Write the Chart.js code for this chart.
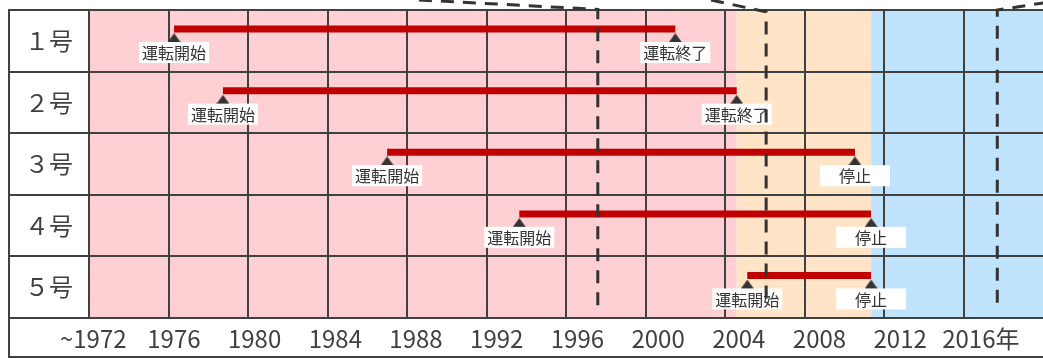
<!DOCTYPE html>
<html lang="ja">
<head>
<meta charset="utf-8">
<script src="https://cdn.jsdelivr.net/npm/chart.js@4.4.1/dist/chart.umd.min.js"></script>
<style>
  html, body { margin: 0; padding: 0; background: #fff; }
  #wrap { width: 1043px; height: 358px; }
</style>
</head>
<body>
<div id="wrap"><canvas id="plantChart" width="1043" height="358"></canvas></div>
<script>
// rows and operating periods (years)
const rowLabels = ["１号", "２号", "３号", "４号", "５号"];
const startYears = [1976.28, 1978.74, 1987.0, 1993.65, 2005.12];
const endYears = [2001.5, 2004.59, 2010.54, 2011.35, 2011.35];
const startTexts = ["運転開始", "運転開始", "運転開始", "運転開始", "運転開始"];
const endTexts = ["運転終了", "運転終了", "停止", "停止", "停止"];

// axis labels
const tickYears = [1972, 1976, 1980, 1984, 1988, 1992, 1996, 2000, 2004, 2008, 2012, 2016];
const tickLabels = ["~1972", "1976", "1980", "1984", "1988", "1992", "1996", "2000", "2004", "2008", "2012", "2016年"];

// background periods
const bandStarts = [1972, 2004.59, 2011.35];
const bandEnds = [2004.59, 2011.35, 2020];
const bandColors = ["#ffd0d3", "#ffe4c8", "#c0e3fd"];

// dashed guide lines (year, row units; negative = above the table)
const guideLeft = [{ x: 1988.6, y: -0.163 }, { x: 1997.6, y: -0.01 }, { x: 1997.6, y: 4.82 }];
const guideMiddle = [{ x: 2003.3, y: -0.163 }, { x: 2006.07, y: 0.03 }, { x: 2006.07, y: 4.82 }];
const guideRight = [{ x: 2020.2, y: -0.125 }, { x: 2017.7, y: 0.0 }, { x: 2017.7, y: 4.82 }];

const lineColor = "#404040";
const textColor = "#404040";
const barColor = "#c00000";
const fontFamily = '"Noto Sans CJK JP", "Noto Sans", sans-serif';

// where things sit inside a row (fraction of row height)
const barLevel = 0.31;
const markLevel = 0.45;
const boxLevel = 0.52;

Chart.defaults.font.family = fontFamily;

// small triangle marker
const tri = document.createElement("canvas");
tri.width = 13;
tri.height = 9;
const tctx = tri.getContext("2d");
tctx.fillStyle = "#333333";
tctx.beginPath();
tctx.moveTo(0, 9);
tctx.lineTo(6.5, 0);
tctx.lineTo(13, 9);
tctx.closePath();
tctx.fill();

const bandPlugin = {
    id: "bands",
    beforeDraw(chart) {
        const { ctx, chartArea, scales: { x } } = chart;
        ctx.save();
        bandStarts.forEach((s, i) => {
            const x0 = x.getPixelForValue(s);
            const x1 = x.getPixelForValue(bandEnds[i]);
            ctx.fillStyle = bandColors[i];
            ctx.fillRect(x0, chartArea.top, x1 - x0, chartArea.bottom - chartArea.top);
        });
        ctx.restore();
    },
};

const framePlugin = {
    id: "frame",
    beforeDatasetsDraw(chart) {
        const { ctx, chartArea, scales: { y, xl } } = chart;
        ctx.save();
        ctx.strokeStyle = lineColor;
        ctx.lineWidth = 2;
        ctx.beginPath();
        ctx.moveTo(y.left, chartArea.top - 1);
        ctx.lineTo(y.left, xl.bottom - 1);
        ctx.lineTo(chartArea.right, xl.bottom - 1);
        ctx.stroke();
        ctx.restore();
    },
};

// white label boxes under the markers, drawn right after the markers
const labelPlugin = {
    id: "eventLabels",
    afterDatasetDraw(chart, args) {
        if (chart.data.datasets[args.index].label !== "events") return;
        const { ctx, scales: { x, yv } } = chart;
        ctx.save();
        ctx.font = "16px " + fontFamily;
        ctx.textAlign = "center";
        ctx.textBaseline = "middle";
        rowLabels.forEach((_, i) => {
            const top = yv.getPixelForValue(i + boxLevel);
            [[startYears[i], startTexts[i]], [endYears[i], endTexts[i]]].forEach(([yr, txt]) => {
                const cx = x.getPixelForValue(yr);
                ctx.fillStyle = "#ffffff";
                ctx.fillRect(cx - 35, top, 70, 21);
                ctx.fillStyle = "#333333";
                ctx.fillText(txt, cx, top + 11);
            });
        });
        ctx.restore();
    },
};

const barSets = rowLabels.map((name, i) => ({
    label: name,
    data: [
        { x: startYears[i], y: i + barLevel },
        { x: endYears[i], y: i + barLevel },
    ],
    yAxisID: "yv",
    borderColor: barColor,
    borderWidth: 7,
    borderCapStyle: "butt",
    pointRadius: 0,
    order: 3,
}));

const eventPoints = [];
rowLabels.forEach((_, i) => {
    eventPoints.push({ x: startYears[i], y: i + markLevel });
    eventPoints.push({ x: endYears[i], y: i + markLevel });
});

const dashStyle = {
    yAxisID: "yv",
    borderColor: "#333333",
    borderWidth: 3,
    borderDash: [13, 9],
    borderCapStyle: "butt",
    pointRadius: 0,
    clip: false,
    order: 1,
};

new Chart(document.getElementById("plantChart"), {
    type: "line",
    data: {
        datasets: [
            ...barSets,
            {
                label: "events",
                data: eventPoints,
                yAxisID: "yv",
                showLine: false,
                pointStyle: tri,
                pointRadius: 6,
                order: 2,
            },
            { label: "guide1", data: guideLeft, ...dashStyle },
            { label: "guide2", data: guideMiddle, ...dashStyle },
            { label: "guide3", data: guideRight, ...dashStyle },
        ],
    },
    options: {
        responsive: false,
        animation: false,
        layout: { autoPadding: false, padding: { left: 9, top: 10, right: 0, bottom: 0 } },
        plugins: {
            legend: { display: false },
            tooltip: { enabled: false },
        },
        scales: {
            x: {
                type: "linear",
                position: "bottom",
                min: 1972,
                max: 2020,
                grid: {
                    color: (c) => (c.tick && c.tick.value >= 2020 ? "rgba(0,0,0,0)" : lineColor),
                    lineWidth: 2,
                    drawTicks: false,
                },
                border: { display: false },
                ticks: { display: false, stepSize: 4 },
                afterFit: (s) => { s.height = 0; s.paddingLeft = 0; s.paddingRight = 0; },
            },
            xl: {
                type: "linear",
                position: "bottom",
                min: 1971.79,
                max: 2019.08,
                grid: { display: false, drawTicks: false },
                border: { display: false },
                afterBuildTicks: (s) => { s.ticks = tickYears.map((v) => ({ value: v })); },
                ticks: {
                    autoSkip: false,
                    maxRotation: 0,
                    padding: 6,
                    color: textColor,
                    font: { size: 24 },
                    callback: (v, i) => tickLabels[i],
                },
                afterFit: (s) => { s.height = 40; s.paddingLeft = 0; s.paddingRight = 0; },
            },
            y: {
                type: "category",
                position: "left",
                labels: rowLabels,
                offset: true,
                grid: { offset: true, color: lineColor, lineWidth: 2, tickLength: 80 },
                border: { display: false },
                ticks: {
                    color: textColor,
                    font: { size: 24 },
                    crossAlign: "center",
                    padding: -64,
                },
                afterFit: (s) => { s.width = 80; },
            },
            yv: {
                type: "linear",
                display: false,
                reverse: true,
                min: 0,
                max: 5,
            },
        },
    },
    plugins: [bandPlugin, framePlugin, labelPlugin],
});
</script>
</body>
</html>
